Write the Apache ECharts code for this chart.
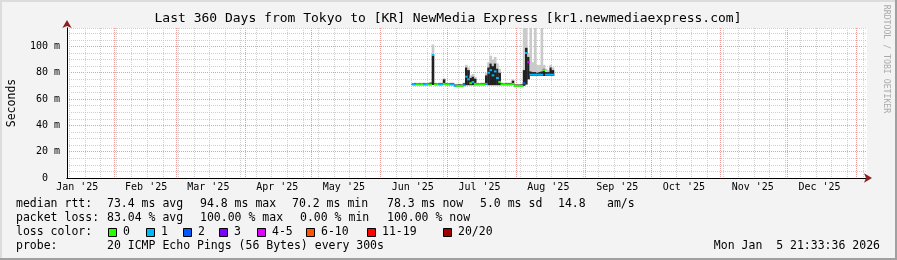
<!DOCTYPE html>
<html><head><meta charset="utf-8">
<script src="https://cdn.jsdelivr.net/npm/echarts@6/dist/echarts.min.js"></script>
<style>html,body{margin:0;padding:0;background:#f3f3f3}#c{width:897px;height:260px}</style>
</head><body><div id="c"></div>
<script>
// ---- data ----
const firstDay = [2025, 5, 15]; // Jun 15 2025, one value per day
const median = [71,71,71,71,71,71,71,71,71, 93.5,
  71,71,71,71,71.5,71,71,71,71,
  70,70,70,70,70.5,
  77,75,72,73,71.5,
  71,71,71,71,71.5,
  80,82,78,81,76,73,
  71,71,71,71,71,71.5,
  70,70,70,70,
  72,95,88,
  78.5,78.5,78.5,78.5,78.5,78.5,82,78.5,78.5,78.5,78.5];
const smokeLow = [70.7,70.7,70.7,70.7,70.7,70.7,70.7,70.7,70.7, 70.7,
  70.7,70.7,70.7,70.7,70.7,70.7,70.7,70.7,70.7,
  69.7,69.7,69.7,69.7,70,
  70.5,70.5,70.5,70.5,70.5,
  70.7,70.7,70.7,70.7,70.7,
  70.5,70.5,70.5,70.5,70.5,70.5,
  70.7,70.7,70.7,70.7,70.7,70.7,
  69.7,69.7,69.7,69.7,
  70,71,75,
  77.5,77.5,77.5,77.5,77.5,77.5,77.5,77.5,77.5,77.5,77.5];
const smokeHigh = [71.8,72,71.8,72,71.8,72,71.8,72,72.5, 93,
  72,71.8,72,72,75,72,71.8,72,72,
  71,71,71.2,71,72,
  84,82,76,77,75.5,
  72,71.8,72,72,78,
  84,87,85,87,83,80,
  72,71.8,72,72,72,74,
  71,71,71,71.2,
  82,99,92,
  81,80.5,80.5,80,80.5,81,83,80.5,80.5,84,82];
const smokeTop = [72.3,72.5,72.3,72.5,72.3,72.5,72.3,72.5,73, 101.5,
  72.5,72.3,72.5,72.5,76,72.5,72.3,72.5,72.5,
  71.5,71.5,71.7,71.5,72.5,
  86,84,78,79,77,
  72.5,72.3,72.5,72.5,80,
  88,93,90,92,87,83,
  72.5,72.3,72.5,72.5,72.5,75,
  71.5,71.5,71.5,71.7,
  118,120,95,
  120,88,120,86,86,120,86,83,82,86,84];
const lossClass = [1,1,0,0,0,1,1,0,0,1,
  0,0,1,1,0,0,0,1,1,
  1,0,0,0,1,
  1,1,0,1,0,
  0,0,0,0,1,
  1,1,1,1,1,0,
  0,0,0,0,0,0,
  0,0,0,0,
  2,1,4,
  1,1,1,1,1,1,0,1,1,1,1];
const lossLabels = ['0','1','2','3','4-5','6-10','11-19','20/20'];
const lossColors = ['#26ff00','#00b8ff','#0059ff','#7e00ff','#dd00ff','#ff5500','#ff0000','#a10000'];
const monthNames = ["Jan '25","Feb '25","Mar '25","Apr '25","May '25","Jun '25","Jul '25","Aug '25","Sep '25","Oct '25","Nov '25","Dec '25"];
const yTickLabels = [0,20,40,60,80,100];
const titleText = 'Last 360 Days from Tokyo to [KR] NewMedia Express [kr1.newmediaexpress.com]';
const statLines = [
  [[16,'median rtt:'],[107,'73.4 ms avg'],[200,'94.8 ms max'],[292,'70.2 ms min'],[387,'78.3 ms now'],[480,'5.0 ms sd'],[558,'14.8'],[607,'am/s']],
  [[16,'packet loss:'],[107,'83.04 % avg'],[200,'100.00 % max'],[300,'0.00 % min'],[387,'100.00 % now']],
  [[16,'loss color:']],
  [[16,'probe:'],[107,'20 ICMP Echo Pings (56 Bytes) every 300s']]
];
const dateText = 'Mon Jan  5 21:33:36 2026';

// ---- build ----
const DAY = 86400000;
const xMin = Date.UTC(2025,0,10,21,33,36);
const xMax = Date.UTC(2026,0,5,21,33,36);
const t0 = Date.UTC(firstDay[0], firstDay[1], firstDay[2], 12);
const ts = median.map((_, i) => t0 + i * DAY);

const monthStarts = [];
for (let m = 1; m <= 12; m++) monthStarts.push(Date.UTC(2025, m, 1));
const monthLabelTs = [];
for (let m = 0; m < 12; m++) monthLabelTs.push(Date.UTC(2025, m, 15, 12));
const weekLines = [];
for (let t = Date.UTC(2025,0,12); t < xMax; t += 7 * DAY) weekLines.push(t);

const FONT = '"DejaVu Sans Mono", monospace';
const ARROW = '#8b2020';

const smokeSeries = {
  type: 'custom', clip: true, silent: true, animation: false,
  encode: { x: 0, y: [1, 2] },
  data: ts.map((t, i) => [t, smokeLow[i], smokeHigh[i], smokeTop[i]]),
  renderItem: (params, api) => {
    const t = api.value(0);
    const a = api.coord([t - DAY / 2, api.value(1)]);
    const b = api.coord([t + DAY / 2, api.value(2)]);
    const c = api.coord([t + DAY / 2, api.value(3)]);
    const w = b[0] - a[0] + 0.4;
    return { type: 'group', children: [
      { type: 'rect', shape: { x: a[0], y: c[1], width: w, height: b[1] - c[1] }, style: { fill: '#cacaca' } },
      { type: 'rect', shape: { x: a[0], y: b[1], width: w, height: a[1] - b[1] }, style: { fill: '#222222' } }
    ] };
  }
};
const medianSeries = {
  type: 'custom', clip: true, silent: true, animation: false,
  encode: { x: 0, y: 1 },
  data: ts.map((t, i) => [t, median[i], lossClass[i]]),
  renderItem: (params, api) => {
    const t = api.value(0), m = api.value(1);
    const a = api.coord([t - DAY / 2, m + 0.75]);
    const b = api.coord([t + DAY / 2, m - 0.75]);
    return { type: 'rect', shape: { x: a[0], y: a[1], width: b[0] - a[0] + 0.4, height: b[1] - a[1] },
      style: { fill: lossColors[api.value(2)] } };
  }
};

const graphic = [
  { type: 'rect', shape: { x: 0, y: 0, width: 897, height: 2 }, style: { fill: '#dcdcdc' }, silent: true },
  { type: 'rect', shape: { x: 0, y: 0, width: 2, height: 260 }, style: { fill: '#dcdcdc' }, silent: true },
  { type: 'rect', shape: { x: 895, y: 0, width: 2, height: 260 }, style: { fill: '#a0a0a0' }, silent: true },
  { type: 'rect', shape: { x: 0, y: 258, width: 897, height: 2 }, style: { fill: '#a0a0a0' }, silent: true },
  { type: 'text', x: 448, y: 19, style: { text: titleText, font: '13px ' + FONT, fill: '#000', align: 'center', verticalAlign: 'middle', textAlign: 'center', textVerticalAlign: 'middle' } },
  { type: 'text', x: 886, y: 59, rotation: -Math.PI / 2, style: { text: 'RRDTOOL / TOBI OETIKER', font: '8.2px ' + FONT, fill: '#aaaaaa', align: 'center', verticalAlign: 'middle', textAlign: 'center', textVerticalAlign: 'middle' } },
  { type: 'text', x: 880, y: 246, style: { text: dateText, font: '11.5px ' + FONT, fill: '#000', align: 'right', verticalAlign: 'middle', textAlign: 'right', textVerticalAlign: 'middle' } }
];
const lineY = [204, 218, 232, 246];
statLines.forEach((line, li) => line.forEach(([x, s]) => graphic.push({
  type: 'text', x: x, y: lineY[li],
  style: { text: s, font: '11.5px ' + FONT, fill: '#000', align: 'left', verticalAlign: 'middle', textAlign: 'left', textVerticalAlign: 'middle' }
})));
const boxX = [108, 146, 183, 219, 257, 306, 367, 443];
lossLabels.forEach((lab, k) => {
  graphic.push({ type: 'rect', shape: { x: boxX[k] + 0.5, y: 228.5, width: 8, height: 8 }, style: { fill: lossColors[k], stroke: '#000', lineWidth: 1 } });
  graphic.push({ type: 'text', x: boxX[k] + 15, y: 232, style: { text: lab, font: '11.5px ' + FONT, fill: '#000', align: 'left', verticalAlign: 'middle', textAlign: 'left', textVerticalAlign: 'middle' } });
});

const option = {
  animation: false,
  backgroundColor: '#f3f3f3',
  grid: { left: 67, right: 30, top: 28, bottom: 82, containLabel: false, outerBoundsMode: 'none',
    show: true, backgroundColor: '#ffffff', borderWidth: 0 },
  xAxis: [
    { type: 'value', min: xMin, max: xMax, scale: true,
      axisLine: { show: true, onZero: false, lineStyle: { color: ARROW, width: 1 }, symbol: ['none', 'arrow'], symbolSize: [7, 8], symbolOffset: [0, 5] },
      axisTick: { show: false, customValues: weekLines },
      splitLine: { show: true, lineStyle: { color: '#cfcfcf', type: [1, 1], width: 1 } },
      axisLabel: { customValues: monthLabelTs, margin: 4, color: '#000', fontFamily: FONT, fontSize: 10,
        formatter: v => { const i = monthLabelTs.indexOf(v); return i >= 0 ? monthNames[i] : ''; } } },
    { type: 'value', min: xMin, max: xMax, scale: true, position: 'bottom',
      axisLine: { show: true, onZero: false, lineStyle: { color: '#000', width: 1 } }, axisLabel: { show: false },
      axisTick: { show: false, customValues: monthStarts },
      splitLine: { show: true, lineStyle: { color: '#f09a9a', type: [1, 1], width: 1 } } }
  ],
  yAxis: [
    { type: 'value', min: 0, max: 114, interval: 5,
      name: 'Seconds', nameLocation: 'middle', nameGap: 49, nameRotate: 90,
      nameTextStyle: { color: '#000', fontFamily: FONT, fontSize: 11.5 },
      axisLine: { show: true, lineStyle: { color: ARROW, width: 1 }, symbol: ['none', 'arrow'], symbolSize: [7, 8], symbolOffset: [0, 8] },
      axisTick: { show: false },
      splitLine: { show: true, lineStyle: { color: '#cfcfcf', type: [1, 1], width: 1 } },
      axisLabel: { customValues: yTickLabels, margin: 7, color: '#000', fontFamily: FONT, fontSize: 10,
        formatter: v => v === 0 ? '0  ' : v + ' m' } },
    { type: 'value', min: 0, max: 114, interval: 20, position: 'left',
      axisLine: { show: true, lineStyle: { color: '#000', width: 1 } }, axisLabel: { show: false },
      axisTick: { show: false, customValues: yTickLabels },
      splitLine: { show: true, lineStyle: { color: '#f09a9a', type: [1, 1], width: 1 } } }
  ],
  series: [smokeSeries, medianSeries],
  graphic: graphic
};
const chart = echarts.init(document.getElementById('c'), null, { renderer: 'canvas' });
chart.setOption(option);
</script></body></html>
